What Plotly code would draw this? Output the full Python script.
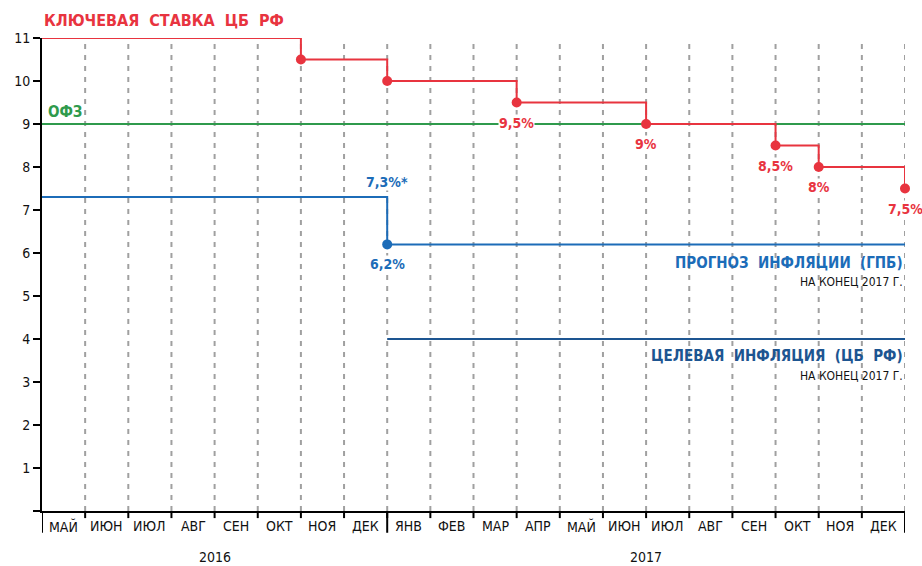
import plotly.graph_objects as go

# Months from May 2016 to Dec 2017 (x = month index, boundaries at integers)
months = ["МАЙ", "ИЮН", "ИЮЛ", "АВГ", "СЕН", "ОКТ", "НОЯ", "ДЕК",
          "ЯНВ", "ФЕВ", "МАР", "АПР", "МАЙ", "ИЮН", "ИЮЛ", "АВГ",
          "СЕН", "ОКТ", "НОЯ", "ДЕК"]
years = ["2016", "2017"]
year_bounds = [0, 8, 20]

# Key rate of the Central Bank (step changes)
key_x = [0, 6, 8, 11, 14, 17, 18, 20]
key_y = [11, 10.5, 10, 9.5, 9, 8.5, 8, 7.5]
key_labels = ["", "", "", "9,5%", "9%", "8,5%", "8%", "7,5%"]

# OFZ yield
ofz_x = [0, 20]
ofz_y = [9, 9]

# Inflation forecast (GPB)
fc_x = [0, 8, 20]
fc_y = [7.3, 6.2, 6.2]
fc_labels = ["7,3%*", "6,2%"]

# Target inflation (CBR)
tgt_x = [8, 20]
tgt_y = [4, 4]

RED = "#e8343f"
GREEN = "#2f9a4c"
BLUE = "#1c6cb8"
DKBLUE = "#1d5591"
FONT = "Liberation Sans Narrow, Arial Narrow, DejaVu Sans Condensed, sans-serif"

fig = go.Figure()

# step-line builder: horizontal then vertical drop at each change
def steps(xs, ys):
    sx, sy = [], []
    for i in range(len(xs) - 1):
        sx += [xs[i], xs[i + 1]]
        sy += [ys[i], ys[i]]
    sx.append(xs[-1])
    sy.append(ys[-1])
    return sx, sy

fig.add_trace(go.Scatter(x=ofz_x, y=ofz_y, mode="lines",
                         line=dict(color=GREEN, width=2), cliponaxis=False,
                         hoverinfo="skip"))
fig.add_trace(go.Scatter(x=tgt_x, y=tgt_y, mode="lines",
                         line=dict(color=DKBLUE, width=2), cliponaxis=False,
                         hoverinfo="skip"))

sx, sy = steps(fc_x, fc_y)
fig.add_trace(go.Scatter(x=sx, y=sy, mode="lines",
                         line=dict(color=BLUE, width=2), cliponaxis=False,
                         hoverinfo="skip"))
fig.add_trace(go.Scatter(x=[fc_x[1]], y=[fc_y[1]], mode="markers",
                         marker=dict(color=BLUE, size=10), cliponaxis=False,
                         hoverinfo="skip"))

sx, sy = steps(key_x, key_y)
fig.add_trace(go.Scatter(x=sx, y=sy, mode="lines",
                         line=dict(color=RED, width=2), cliponaxis=False,
                         hoverinfo="skip"))
fig.add_trace(go.Scatter(x=key_x[1:], y=key_y[1:], mode="markers",
                         marker=dict(color=RED, size=10), cliponaxis=False,
                         hoverinfo="skip"))

ann = []
for x, y, t in zip(key_x, key_y, key_labels):
    if t:
        ann.append(dict(x=x, y=y, text=f"<b>{t}</b>", showarrow=False,
                        yshift=-20, font=dict(color=RED, size=14, family=FONT),
                        bgcolor="white", borderpad=0))
ann.append(dict(x=fc_x[1], y=fc_y[0], text=f"<b>{fc_labels[0]}</b>",
                showarrow=False, yshift=15,
                font=dict(color=BLUE, size=14, family=FONT),
                bgcolor="white", borderpad=0))
ann.append(dict(x=fc_x[1], y=fc_y[1], text=f"<b>{fc_labels[1]}</b>",
                showarrow=False, yshift=-20,
                font=dict(color=BLUE, size=14, family=FONT),
                bgcolor="white", borderpad=0))

# series titles
ann.append(dict(x=0, y=1, xref="paper", yref="paper", xanchor="left",
                yanchor="bottom", yshift=6, showarrow=False,
                text="<b>КЛЮЧЕВАЯ  СТАВКА  ЦБ  РФ</b>",
                font=dict(color=RED, size=16, family=FONT)))
ann.append(dict(x=0, y=9, xanchor="left", yanchor="bottom", xshift=4, yshift=1,
                showarrow=False, text="<b>ОФЗ</b>",
                font=dict(color=GREEN, size=15, family=FONT)))
ann.append(dict(x=20, y=fc_y[-1], xanchor="right", yanchor="top", yshift=-8,
                showarrow=False, text="<b>ПРОГНОЗ  ИНФЛЯЦИИ  (ГПБ)</b>",
                font=dict(color=BLUE, size=15, family=FONT)))
ann.append(dict(x=20, y=fc_y[-1], xanchor="right", yanchor="top", yshift=-29,
                showarrow=False, text="НА КОНЕЦ 2017 Г.",
                font=dict(color="#111111", size=12, family=FONT)))
ann.append(dict(x=20, y=tgt_y[-1], xanchor="right", yanchor="top", yshift=-6,
                showarrow=False, text="<b>ЦЕЛЕВАЯ  ИНФЛЯЦИЯ  (ЦБ  РФ)</b>",
                font=dict(color=DKBLUE, size=15, family=FONT)))
ann.append(dict(x=20, y=tgt_y[-1], xanchor="right", yanchor="top", yshift=-28,
                showarrow=False, text="НА КОНЕЦ 2017 Г.",
                font=dict(color="#111111", size=12, family=FONT)))

# month and year labels
for i, m in enumerate(months):
    ann.append(dict(x=i + 0.5, y=0, yref="paper", yanchor="top", yshift=-5,
                    showarrow=False, text=m,
                    font=dict(color="#111111", size=14, family=FONT)))
for k, yr in enumerate(years):
    ann.append(dict(x=(year_bounds[k] + year_bounds[k + 1]) / 2, y=0,
                    yref="paper", yanchor="top", yshift=-36, showarrow=False,
                    text=yr, font=dict(color="#111111", size=14, family=FONT)))

shapes = []
# month separators on the x axis
for i in range(1, 20):
    shapes.append(dict(type="line", xref="x", yref="paper", x0=i, x1=i,
                       y0=0, y1=-0.015, line=dict(color="black", width=2)))
# year separators
for b in year_bounds:
    shapes.append(dict(type="line", xref="x", yref="paper", x0=b, x1=b,
                       y0=0, y1=-0.046, line=dict(color="black", width=2)))
# left stub of the x axis line
shapes.append(dict(type="line", xref="paper", yref="y", x0=-0.008, x1=0,
                   y0=0, y1=0, line=dict(color="black", width=2)))
# dashed month gridlines
for i in range(1, 21):
    shapes.append(dict(type="line", xref="x", yref="paper", x0=i, x1=i,
                       y0=0, y1=1, layer="below",
                       line=dict(color="#a0a0a0", width=2, dash="5px,6px")))

fig.update_layout(
    width=922, height=566,
    margin=dict(l=42, r=17, t=38, b=55),
    paper_bgcolor="white", plot_bgcolor="white",
    showlegend=False,
    annotations=ann, shapes=shapes,
    xaxis=dict(range=[0, 20], showgrid=False, zeroline=False,
               showline=True, linecolor="black", linewidth=2,
               showticklabels=False, ticks=""),
    yaxis=dict(range=[0, 11], showgrid=False, zeroline=False,
               showline=True, linecolor="black", linewidth=2,
               tickvals=list(range(0, 12)),
               ticktext=[""] + [str(v) for v in range(1, 12)],
               ticks="outside", ticklen=7, tickwidth=2, tickcolor="black",
               tickfont=dict(size=14, family=FONT, color="#111111")),
)

fig.write_html("out.html")
